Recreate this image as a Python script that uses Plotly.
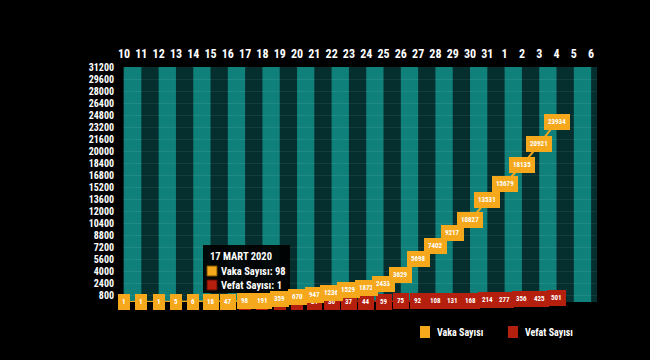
import plotly.graph_objects as go

days = ["10", "11", "12", "13", "14", "15", "16", "17", "18", "19", "20", "21", "22", "23",
        "24", "25", "26", "27", "28", "29", "30", "31", "1", "2", "3", "4", "5", "6"]
vaka = [1, 1, 1, 5, 6, 18, 47, 98, 191, 359, 670, 947, 1236, 1529, 1872, 2433, 3629,
        5698, 7402, 9217, 10827, 13531, 15679, 18135, 20921, 23934, None, None]
vefat = [None, None, None, None, None, None, None, 1, 2, 4, 9, 21, 30, 37, 44, 59, 75,
         92, 108, 131, 168, 214, 277, 356, 425, 501, None, None]
yticks = list(range(800, 31201, 1600))
series_names = ["Vaka Sayısı", "Vefat Sayısı"]
tip_title = "17 MART 2020"

ORANGE = "#f5a81c"
RED = "#b5200e"
TEAL = "#10807a"
DARK = "#052f2e"
FONT = "Liberation Sans Narrow, Roboto Condensed, Arial Narrow, Roboto, sans-serif"

xs = list(range(len(days)))

fig = go.Figure()
fig.add_trace(go.Scatter(x=xs, y=vefat, mode="lines", line=dict(color=RED, width=2),
                         showlegend=False, hoverinfo="skip"))
fig.add_trace(go.Scatter(x=xs, y=vaka, mode="lines", line=dict(color=ORANGE, width=2),
                         showlegend=False, hoverinfo="skip"))

shapes = []
for i in range(len(days) - 1):
    if i % 2 == 0:
        shapes.append(dict(type="rect", xref="x", yref="paper", x0=i, x1=i + 1, y0=0, y1=1,
                           fillcolor=TEAL, line=dict(width=0), layer="below"))

annotations = []
for i, v in enumerate(vefat):
    if v is not None:
        annotations.append(dict(x=i, y=v, xref="x", yref="y", text="<b>%d</b>" % v,
                                showarrow=False, font=dict(color="white", size=7, family=FONT),
                                bgcolor=RED, bordercolor=RED, borderpad=3))
for i, v in enumerate(vaka):
    if v is not None:
        annotations.append(dict(x=i, y=v, xref="x", yref="y", text="<b>%d</b>" % v,
                                showarrow=False, font=dict(color="white", size=7, family=FONT),
                                bgcolor=ORANGE, bordercolor=ORANGE, borderpad=3))

def px(xp):
    return (xp - 123) / 474
def py(yp):
    return (302 - yp) / 235

# tooltip (hover state shown in the reference)
tip_i = days.index("17")
TIPBG = "rgba(0,0,0,0.93)"
shapes.append(dict(type="path", xref="paper", yref="paper",
                   path="M %f %f L %f %f L %f %f Z" % (px(239), py(292), px(251), py(292), px(245), py(299)),
                   fillcolor=TIPBG, line=dict(width=0), layer="above"))
shapes.append(dict(type="rect", xref="paper", yref="paper",
                   x0=px(203), x1=px(290), y0=py(293), y1=py(245),
                   fillcolor=TIPBG, line=dict(width=0), layer="above"))
annotations.append(dict(xref="paper", yref="paper", x=px(208), y=py(256),
                        xanchor="left", yanchor="middle", showarrow=False,
                        text="<b>%s</b>" % tip_title,
                        font=dict(color="white", size=10.5, family=FONT)))
tip_vals = [vaka[tip_i], vefat[tip_i]]
for k, (name, col, val) in enumerate(zip(series_names, [ORANGE, RED], tip_vals)):
    yc = 271 + 14 * k
    shapes.append(dict(type="rect", xref="paper", yref="paper",
                       x0=px(207), x1=px(217), y0=py(yc + 5), y1=py(yc - 5),
                       fillcolor=col, line=dict(color="#7a5200" if k == 0 else "#5a0f06", width=1),
                       layer="above"))
    annotations.append(dict(xref="paper", yref="paper", x=px(219), y=py(yc),
                            xanchor="left", yanchor="middle", showarrow=False,
                            text="<b>%s: %d</b>" % (name, val),
                            font=dict(color="white", size=10.5, family=FONT)))

# manual legend
for name, col, lx in zip(series_names, [ORANGE, RED], [420, 508]):
    shapes.append(dict(type="rect", xref="paper", yref="paper",
                       x0=px(lx), x1=px(lx + 10), y0=py(338), y1=py(326),
                       fillcolor=col, line=dict(width=0)))
    annotations.append(dict(xref="paper", yref="paper", x=px(lx + 15),
                            y=py(332), xanchor="left", yanchor="middle",
                            text="<b>%s</b>" % name, showarrow=False,
                            font=dict(color="white", size=10, family=FONT)))

fig.update_layout(
    width=650, height=360,
    margin=dict(l=123, r=53, t=67, b=58, autoexpand=False),
    paper_bgcolor="black", plot_bgcolor=DARK,
    shapes=shapes, annotations=annotations,
    showlegend=False,
    xaxis=dict(range=[-0.06, 27.34], side="top", tickmode="array", tickvals=xs,
               ticktext=["<b>%s</b>" % d for d in days], showgrid=False, zeroline=False,
               tickfont=dict(color="white", size=12, family=FONT), ticks="", ticklabelstandoff=6),
    yaxis=dict(range=[0, 31200], tickmode="array", tickvals=yticks,
               ticktext=["<b>%d</b>" % t for t in yticks], showgrid=True,
               gridcolor="rgba(255,255,255,0.07)", gridwidth=1, zeroline=False,
               tickfont=dict(color="white", size=10, family=FONT), ticks="", ticklabelstandoff=8),
)

fig.write_html("out.html", config={"displayModeBar": False},
               post_script="document.body.style.margin='0';document.body.style.background='black';")
